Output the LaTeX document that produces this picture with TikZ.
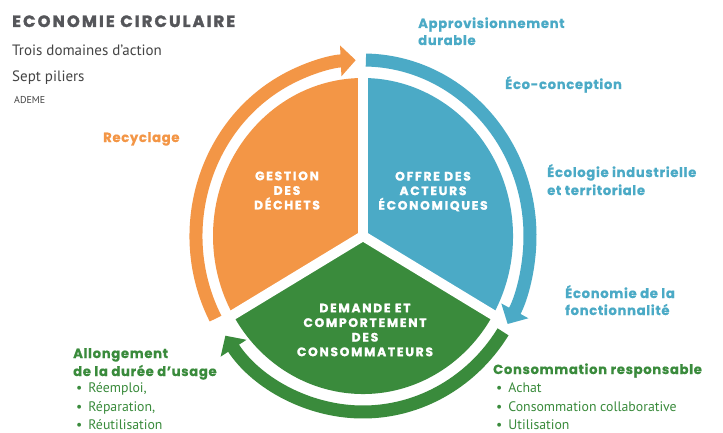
\documentclass[tikz,border=0pt]{standalone}
\usepackage{fontspec}
\setmainfont{PT Sans}
\newfontfamily\rnd{Poppins}[LetterSpace=5, BoldFeatures={FakeBold=0.6}]
\newfontfamily\rndt{Poppins}[LetterSpace=13, BoldFeatures={FakeBold=1.8}]
\newfontfamily\rndsp{Poppins}[LetterSpace=14, BoldFeatures={FakeBold=1.4}]
\usetikzlibrary{arrows.meta}
\definecolor{cOr}{HTML}{F39646}
\definecolor{cBl}{HTML}{4BAAC6}
\definecolor{cGr}{HTML}{3A8B3C}
\definecolor{cTi}{HTML}{55565A}
\definecolor{cTx}{HTML}{444444}
\begin{document}
\begin{tikzpicture}[x=1pt,y=1pt,
  lbl/.style={anchor=base west, inner sep=0pt, font=\rnd\bfseries\fontsize{13.2}{16}\selectfont},
  blt/.style={anchor=base west, inner sep=0pt, text=cGr, font=\fontsize{13.8}{16}\selectfont},
  sub/.style={anchor=base west, inner sep=0pt, text=cTx, font=\fontsize{15}{18}\selectfont},
  sect/.style={text=white, align=center, inner sep=0pt, font=\rndsp\bfseries\fontsize{12.3}{14.6}\selectfont},
  ring/.style={line width=13pt},
  tipA/.style={-{Triangle[length=15pt,width=30pt]}},
  gap/.style={white, line width=10pt}
]
\useasboundingbox (0,0) rectangle (723,432);
\fill[white] (0,0) rectangle (723,432);
\coordinate (c) at (363,196);
% sectors
\fill[cOr] (c) -- ++(90:150 and 158) arc[start angle=90, end angle=210, x radius=150, y radius=158] -- cycle;
\fill[cBl] (c) -- ++(-30:150 and 158) arc[start angle=-30, end angle=90, x radius=150, y radius=158] -- cycle;
\fill[cGr] (c) -- ++(210:150 and 158) arc[start angle=210, end angle=330, x radius=150, y radius=158] -- cycle;
\draw[gap] (c) -- ++(90:158 and 166);
\draw[gap] (c) -- ++(210:158 and 166);
\draw[gap] (c) -- ++(330:158 and 166);
% rings
\draw[cOr, ring, tipA] (c) ++(208:167 and 176) arc[start angle=208, end angle=92.5, x radius=167, y radius=176];
\draw[cBl, ring, tipA] (c) ++(89:167 and 176) arc[start angle=89, end angle=-30, x radius=167, y radius=176];
\draw[cGr, ring, tipA] (c) ++(-33:167 and 176) arc[start angle=-33, end angle=-145.5, x radius=167, y radius=176];
% sector labels
\node[sect] (sOr) at (287,241.5) {GESTION\\DES\\DÉCHETS};
\node[sect] (sBl) at (433,240.5) {OFFRE DES\\ACTEURS\\ÉCONOMIQUES};
\node[sect] (sGr) at (365,102) {DEMANDE ET\\COMPORTEMENT\\DES\\CONSOMMATEURS};
% title block
\node[anchor=base west, inner sep=0pt, text=cTi, font=\rndt\bfseries\fontsize{16.3}{19}\selectfont] (title) at (12,405) {ECONOMIE CIRCULAIRE};
\node[sub] (sub1) at (12,376) {Trois domaines d’action};
\node[sub] (sub2) at (12,350) {Sept piliers};
\node[anchor=base west, inner sep=0pt, text=cTx, font=\fontsize{10}{12}\selectfont] (ademe) at (14,328) {ADEME};
% pillars
\node[lbl, text=cOr] (recy) at (103,290) {Recyclage};
\node[lbl, text=cBl] (appro1) at (418,404) {Approvisionnement};
\node[lbl, text=cBl] (appro2) at (418,387) {durable};
\node[lbl, text=cBl] (eco) at (505,343) {Éco-conception};
\node[lbl, text=cBl] (ecol1) at (547,255) {Écologie industrielle};
\node[lbl, text=cBl] (ecol2) at (547,237) {et territoriale};
\node[lbl, text=cBl] (econ1) at (565,134) {Économie de la};
\node[lbl, text=cBl] (econ2) at (565,117) {fonctionnalité};
\node[lbl, text=cGr] (cons) at (493,58) {Consommation responsable};
\node[blt] (b1) at (496,40) {\textbullet\hspace{6pt}Achat};
\node[blt] (b2) at (496,21) {\textbullet\hspace{6pt}Consommation collaborative};
\node[blt] (b3) at (496,3) {\textbullet\hspace{6pt}Utilisation};
\node[lbl, text=cGr] (allo1) at (73,74) {Allongement};
\node[lbl, text=cGr] (allo2) at (73,56) {de la durée d’usage};
\node[blt] (r1) at (76,40) {\textbullet\hspace{6pt}Réemploi,};
\node[blt] (r2) at (76,21) {\textbullet\hspace{6pt}Réparation,};
\node[blt] (r3) at (76,3) {\textbullet\hspace{6pt}Réutilisation};
\end{tikzpicture}
\end{document}
